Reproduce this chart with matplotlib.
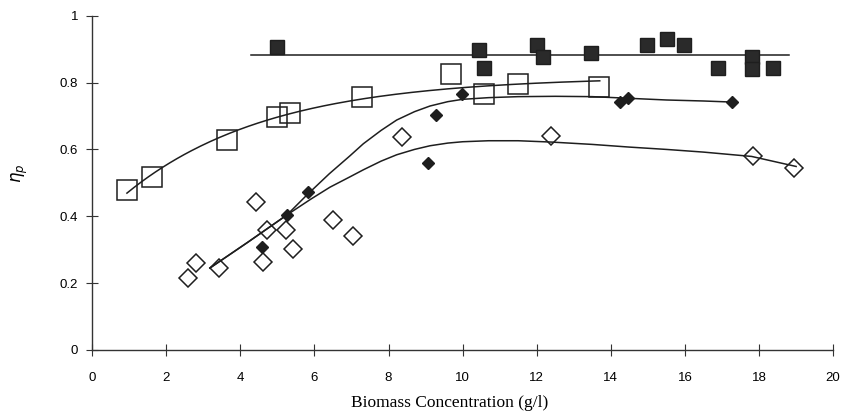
import numpy as np
import matplotlib
matplotlib.use('Agg')
import matplotlib.pyplot as plt

# filled squares (flat line at the mean)
fsq_x = [5.0, 10.45, 10.58, 12.0, 12.17, 13.47, 14.98, 15.52, 15.98, 16.9, 17.8, 17.8, 18.38]
fsq_y = [0.907, 0.898, 0.844, 0.913, 0.877, 0.889, 0.913, 0.931, 0.913, 0.844, 0.877, 0.841, 0.844]

# open squares
osq_x = [0.94, 1.62, 3.64, 4.99, 5.34, 7.29, 9.69, 10.58, 11.5, 13.68]
osq_y = [0.479, 0.518, 0.629, 0.698, 0.71, 0.757, 0.826, 0.766, 0.796, 0.788]

# filled diamonds
fdi_x = [4.59, 5.26, 5.83, 9.07, 9.28, 9.99, 14.25, 14.47, 17.27]
fdi_y = [0.308, 0.404, 0.473, 0.56, 0.704, 0.766, 0.743, 0.754, 0.743]

# open diamonds
odi_x = [2.6, 2.81, 3.43, 4.43, 4.62, 4.72, 5.24, 5.42, 6.5, 7.04, 8.37, 12.39, 17.84, 18.95]
odi_y = [0.215, 0.26, 0.245, 0.443, 0.263, 0.359, 0.359, 0.302, 0.389, 0.341, 0.638, 0.641, 0.581, 0.545]

# smoothed trend curves
fdi_curve_x = [3.18, 4.2, 5.26, 5.8, 6.4, 6.96, 7.32, 7.8, 8.22, 8.7, 9.12, 9.6, 10.0,
               10.7, 11.5, 12.5, 13.5, 14.5, 15.5, 16.5, 17.22]
fdi_curve_y = [0.245, 0.322, 0.404, 0.464, 0.527, 0.581, 0.617, 0.657, 0.688, 0.713, 0.73,
               0.743, 0.75, 0.755, 0.758, 0.759, 0.758, 0.753, 0.748, 0.745, 0.742]
odi_curve_x = [3.18, 4.2, 5.26, 5.9, 6.42, 6.96, 7.32, 7.8, 8.22, 8.7, 9.12, 9.6, 10.0,
               10.7, 11.5, 12.4, 13.5, 14.5, 15.5, 16.5, 17.8, 19.0]
odi_curve_y = [0.245, 0.322, 0.404, 0.451, 0.487, 0.518, 0.539, 0.565, 0.584, 0.6, 0.611,
               0.619, 0.623, 0.626, 0.626, 0.622, 0.615, 0.607, 0.6, 0.592, 0.579, 0.549]

xticks = [0, 2, 4, 6, 8, 10, 12, 14, 16, 18, 20]
yticks = [0, 0.2, 0.4, 0.6, 0.8, 1]
ytick_labels = ['0', '0.2', '0.4', '0.6', '0.8', '1']


def sat_fit(x, y, x0, x1):
    # y = a - b*exp(-k x), grid search over k, least squares for a, b
    x = np.asarray(x)
    y = np.asarray(y)
    best = None
    for k in np.linspace(0.05, 1.0, 200):
        A = np.column_stack([np.ones_like(x), -np.exp(-k * x)])
        coef = np.linalg.lstsq(A, y, rcond=None)[0]
        err = np.sum((A @ coef - y) ** 2)
        if best is None or err < best[0]:
            best = (err, k, coef)
    _, k, (a, b) = best
    xs = np.linspace(x0, x1, 200)
    return xs, a - b * np.exp(-k * xs)


fig = plt.figure(figsize=(8.45, 4.16), dpi=100)
ax = fig.add_axes([0.109, 0.159, 0.877, 0.803])

ink = '#1e1e1e'
lw = 1.1

# flat line through the filled squares
ax.plot([4.3, 18.8], [np.mean(fsq_y)] * 2, color=ink, lw=lw)
ax.plot(fsq_x, fsq_y, 's', ms=10.5, color='#2a2a2a', mec=ink)

xs, ys = sat_fit(osq_x, osq_y, 0.94, 13.7)
ax.plot(xs, ys, color=ink, lw=lw)
ax.plot(osq_x, osq_y, 's', ms=14, mfc='none', mec=ink, mew=1.1)

ax.plot(fdi_curve_x, fdi_curve_y, color=ink, lw=lw, solid_joinstyle='round')
ax.plot(fdi_x, fdi_y, 'D', ms=6, color=ink)

ax.plot(odi_curve_x, odi_curve_y, color=ink, lw=lw, solid_joinstyle='round')
ax.plot(odi_x, odi_y, 'D', ms=9.5, mfc='none', mec=ink, mew=1.1)

ax.set_xlim(0, 20)
ax.set_ylim(0, 1)
ax.spines['top'].set_visible(False)
ax.spines['right'].set_visible(False)
for s in ['left', 'bottom']:
    ax.spines[s].set_color('#333333')
    ax.spines[s].set_linewidth(1.0)

ax.set_xticks(xticks)
ax.set_xticklabels([str(t) for t in xticks], family='Liberation Sans', fontsize=9.5)
ax.set_yticks(yticks)
ax.set_yticklabels(ytick_labels, family='Liberation Sans', fontsize=9.5)
ax.tick_params(axis='x', direction='inout', length=8, pad=12, color='#333333')
ax.tick_params(axis='y', direction='inout', length=8, pad=6, color='#333333')

ax.set_xlabel('Biomass Concentration (g/l)', family='Liberation Serif', fontsize=12.5)
ax.xaxis.set_label_coords(0.482, -0.135)
ax.set_ylabel(r'$\eta_p$', fontsize=12)
ax.yaxis.set_label_coords(-0.084, 0.53)

plt.savefig('out.png', dpi=100, facecolor='white')
